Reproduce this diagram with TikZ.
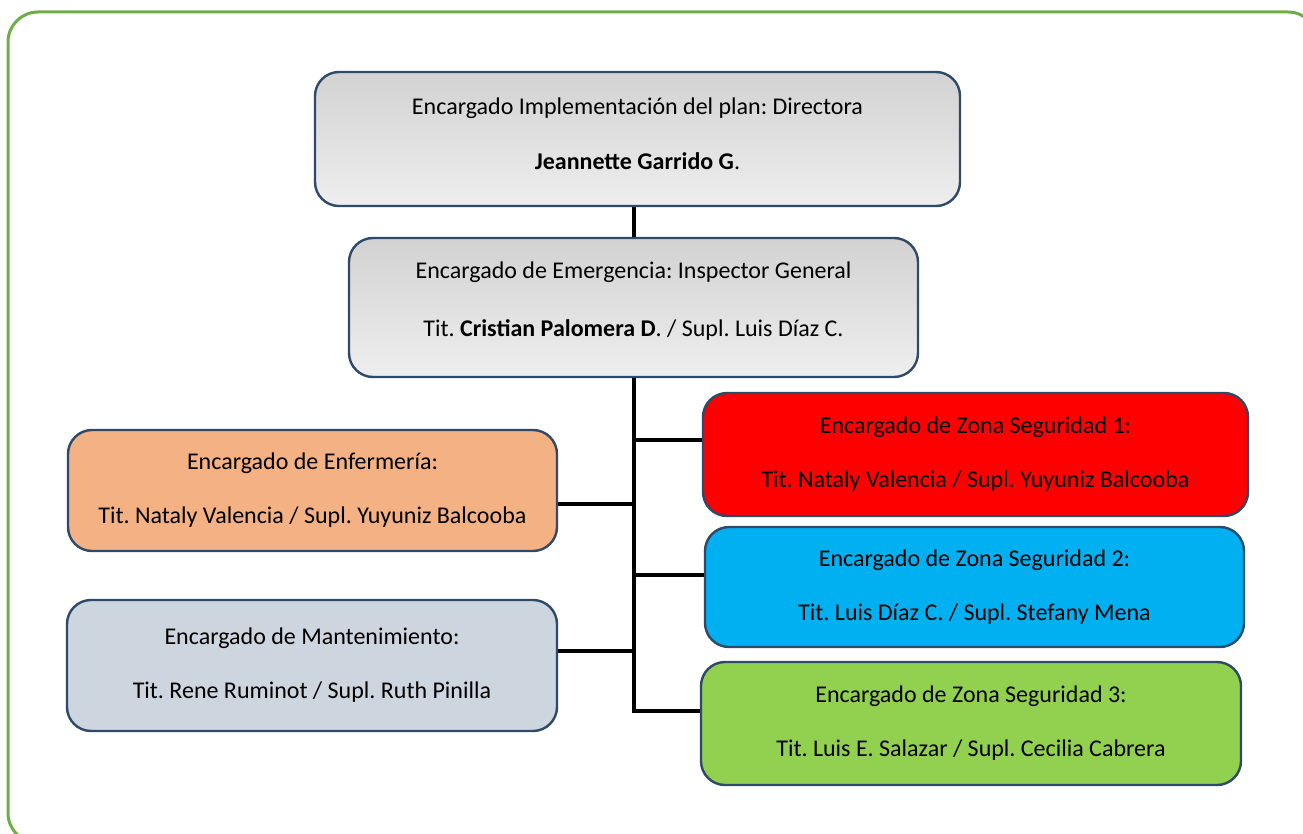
\documentclass[tikz,border=0pt]{standalone}
\usepackage{fontspec}
\setmainfont{Carlito}
\frenchspacing
\begin{document}
\begin{tikzpicture}[x=1pt,y=-1pt,
  box/.style={draw=boxline, line width=2.4pt, rounded corners=24pt, align=center,
    font=\fontsize{24}{54}\selectfont, inner sep=0pt},
  greybox/.style={box, top color=gtop, bottom color=gbot},
  boxtext/.style={align=center},
  link/.style={draw=black, line width=3.5pt}]
\definecolor{boxline}{HTML}{2E4A68}
\definecolor{frame}{HTML}{70AD47}
\definecolor{gtop}{HTML}{D2D2D2}
\definecolor{gbot}{HTML}{EEEEEE}
\definecolor{cred}{HTML}{FF0000}
\definecolor{corange}{HTML}{F4B183}
\definecolor{cblue}{HTML}{00B0F0}
\definecolor{cgrey}{HTML}{CDD5DF}
\definecolor{cgreen}{HTML}{92D050}
\useasboundingbox (0,0) rectangle (1303,834);
\begin{scope}
\clip (0,0) rectangle (1303,834);
\draw[frame, line width=3pt, rounded corners=30pt]
  (1318,60) -- (1318,12) -- (8,12) -- (8,843) -- (1318,843) -- (1318,800);
\end{scope}

\node[greybox, minimum width=645pt, minimum height=134pt] (top) at (637.5,139) {};
\node (toptext) at (637.5,134) [boxtext, font=\fontsize{24}{55}\selectfont]
  {Encargado Implementación del plan: Directora\\\textbf{Jeannette Garrido G}.};

\node[greybox, minimum width=569pt, minimum height=139pt] (emerg) at (633.5,307.5) {};
\node (emergtext) at (633.5,301) [boxtext, font=\fontsize{24}{58}\selectfont]
  {Encargado de Emergencia: Inspector General\\Tit. \textbf{Cristian Palomera D}. / Supl. Luis Díaz C.};

\node[box, fill=cred, minimum width=545pt, minimum height=123pt] (red) at (975.5,454.5)
  {Encargado de Zona Seguridad 1:\\Tit. Nataly Valencia / Supl. Yuyuniz Balcooba};
\node[box, fill=corange, minimum width=489pt, minimum height=121pt] (orange) at (312.5,490.5)
  {Encargado de Enfermería:\\Tit. Nataly Valencia / Supl. Yuyuniz Balcooba};
\node[box, fill=cblue, minimum width=539pt, minimum height=120pt] (blue) at (974.5,587)
  {Encargado de Zona Seguridad 2:\\Tit. Luis Díaz C. / Supl. Stefany Mena};
\node[box, fill=cgrey, minimum width=490pt, minimum height=131pt] (grey) at (312,665.5)
  {Encargado de Mantenimiento:\\Tit. Rene Ruminot / Supl. Ruth Pinilla};
\node[box, fill=cgreen, minimum width=540pt, minimum height=123pt] (green) at (971,723.5)
  {Encargado de Zona Seguridad 3:\\Tit. Luis E. Salazar / Supl. Cecilia Cabrera};

\coordinate (jr1) at (634,440);
\coordinate (jl1) at (634,504);
\coordinate (jr2) at (634,575);
\coordinate (jl2) at (634,651);
\coordinate (jr3) at (634,711);

\draw[link] (emerg.north -| jr1) -- (top.south -| jr1);
\draw[link] (emerg.south -| jr1) -- ([yshift=1.75pt]jr3);
\draw[link] (jr1) -- (jr1 -| red.west);
\draw[link] (jl1) -- (jl1 -| orange.east);
\draw[link] (jr2) -- (jr2 -| blue.west);
\draw[link] (jl2) -- (jl2 -| grey.east);
\draw[link] ([xshift=-1.75pt]jr3) -- (jr3 -| green.west);
\end{tikzpicture}
\end{document}
